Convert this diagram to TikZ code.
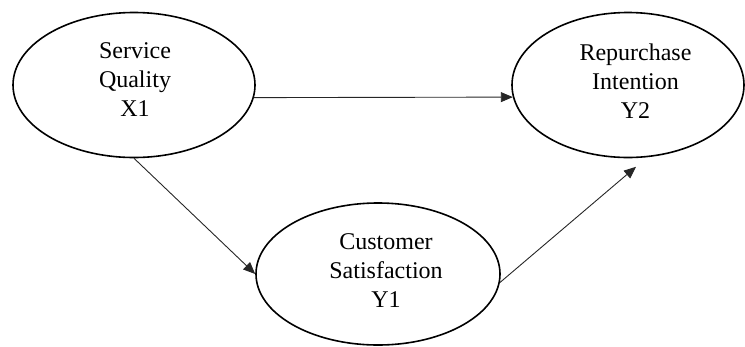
\documentclass[tikz,border=0pt]{standalone}
\usepackage{fontspec}
\setmainfont{Liberation Serif}
\usetikzlibrary{shapes.geometric,arrows.meta,calc}

\begin{document}
\begin{tikzpicture}[x=1pt,y=-1pt,
  oval/.style={draw=black,line width=1.6pt,ellipse,inner sep=0pt},
  lbl/.style={align=center,inner sep=0pt,font=\fontsize{24}{29}\selectfont},
  path/.style={draw=black!85,line width=0.9pt,-{Triangle[length=12pt,width=10pt]}}]
  \useasboundingbox (0,0) rectangle (745,346);

  % constructs
  \node[oval,minimum width=242pt,minimum height=145pt] (x1) at (134,85) {};
  \node[oval,minimum width=232pt,minimum height=145pt] (y2) at (628,85) {};
  \node[oval,minimum width=244pt,minimum height=142pt] (y1) at (378,274) {};

  \node[lbl] (x1t) at (135,80) {Service\\Quality\\X1};
  \node[lbl] (y2t) at (635.5,81) {Repurchase\\Intention\\Y2};
  \node[lbl] (y1t) at (386,271) {Customer\\Satisfaction\\Y1};

  % open end of the satisfaction path, just below the intention oval
  \coordinate (y2in) at ($(y2.south)+(8,8.5)$);

  % structural paths
  \draw[path] (x1.-6.73) -- (y2.186.9);
  \draw[path] (x1.south) -- (y1.west);
  \draw[path] (y1.-4) -- (y2in);
\end{tikzpicture}
\end{document}
